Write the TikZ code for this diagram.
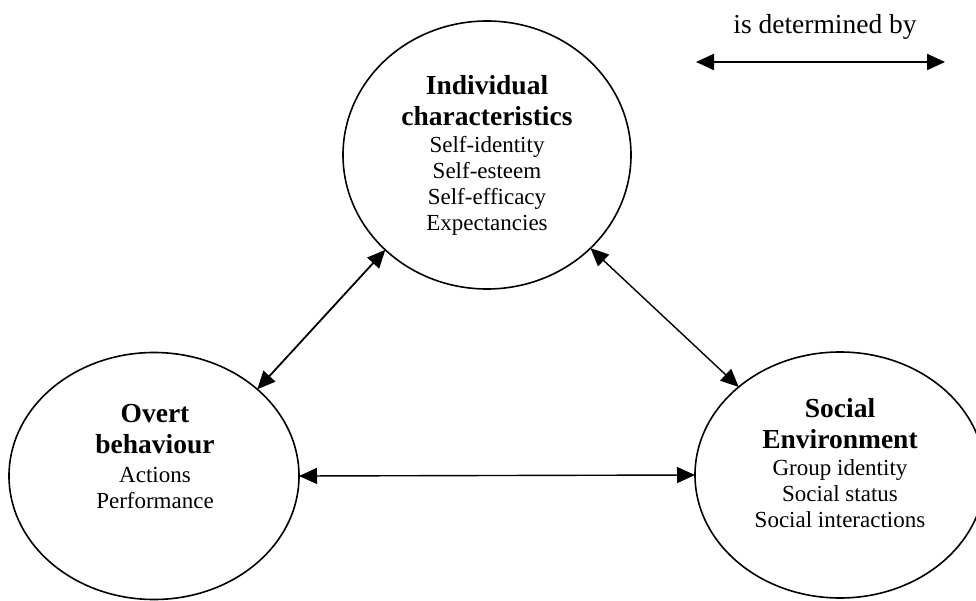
\documentclass[tikz,border=0pt]{standalone}
\usepackage{fontspec}
\setmainfont{Liberation Serif}
\usetikzlibrary{shapes.geometric,arrows.meta}

\tikzset{
  construct/.style={draw, ellipse, line width=1.6pt, inner sep=0pt, outer sep=0pt},
  heading/.style={align=center, font=\fontsize{27.5}{31}\selectfont\bfseries, inner sep=0pt},
  items/.style={align=center, font=\fontsize{23}{26}\selectfont, inner sep=0pt},
  link/.style={{Triangle[length=18pt,width=16pt]}-{Triangle[length=18pt,width=16pt]}, line width=1.4pt},
  legendtext/.style={font=\fontsize{27.5}{31}\selectfont, inner sep=0pt}
}

\begin{document}
\begin{tikzpicture}[x=1pt, y=-1pt]
  \useasboundingbox[fill=white] (0,0) rectangle (976,601);

  % the three constructs
  \node[construct, minimum width=288pt, minimum height=268pt] (indiv) at (487,155) {};
  \node[construct, minimum width=290pt, minimum height=247pt] (overt) at (154,476) {};
  \node[construct, minimum width=290pt, minimum height=246pt] (social) at (840,475) {};

  % their contents
  \node[heading] (indivhead) at (487,101) {Individual\\characteristics};
  \node[items] (indivitems) at (487,186) {Self-identity\\Self-esteem\\Self-efficacy\\Expectancies};

  \node[heading] (overthead) at (155,429) {Overt\\behaviour};
  \node[items] (overtitems) at (155,487.5) {Actions\\Performance};

  \node[heading] (socialhead) at (840,423.5) {Social\\Environment};
  \node[items] (socialitems) at (840,493.5) {Group identity\\Social status\\Social interactions};

  % reciprocal determination
  \draw[link, line width=1.8pt] (indiv.223) -- (overt.40);
  \draw[link] (indiv.318) -- (social.139.5);
  \draw[link] (overt.east) -- (social.west);

  % legend
  \node[legendtext] (legend) at (825,27) {is determined by};
  \coordinate (legendleft) at (696,62);
  \coordinate (legendright) at (945,62);
  \draw[link, line width=2.2pt] (legendleft) -- (legendright);
\end{tikzpicture}
\end{document}
